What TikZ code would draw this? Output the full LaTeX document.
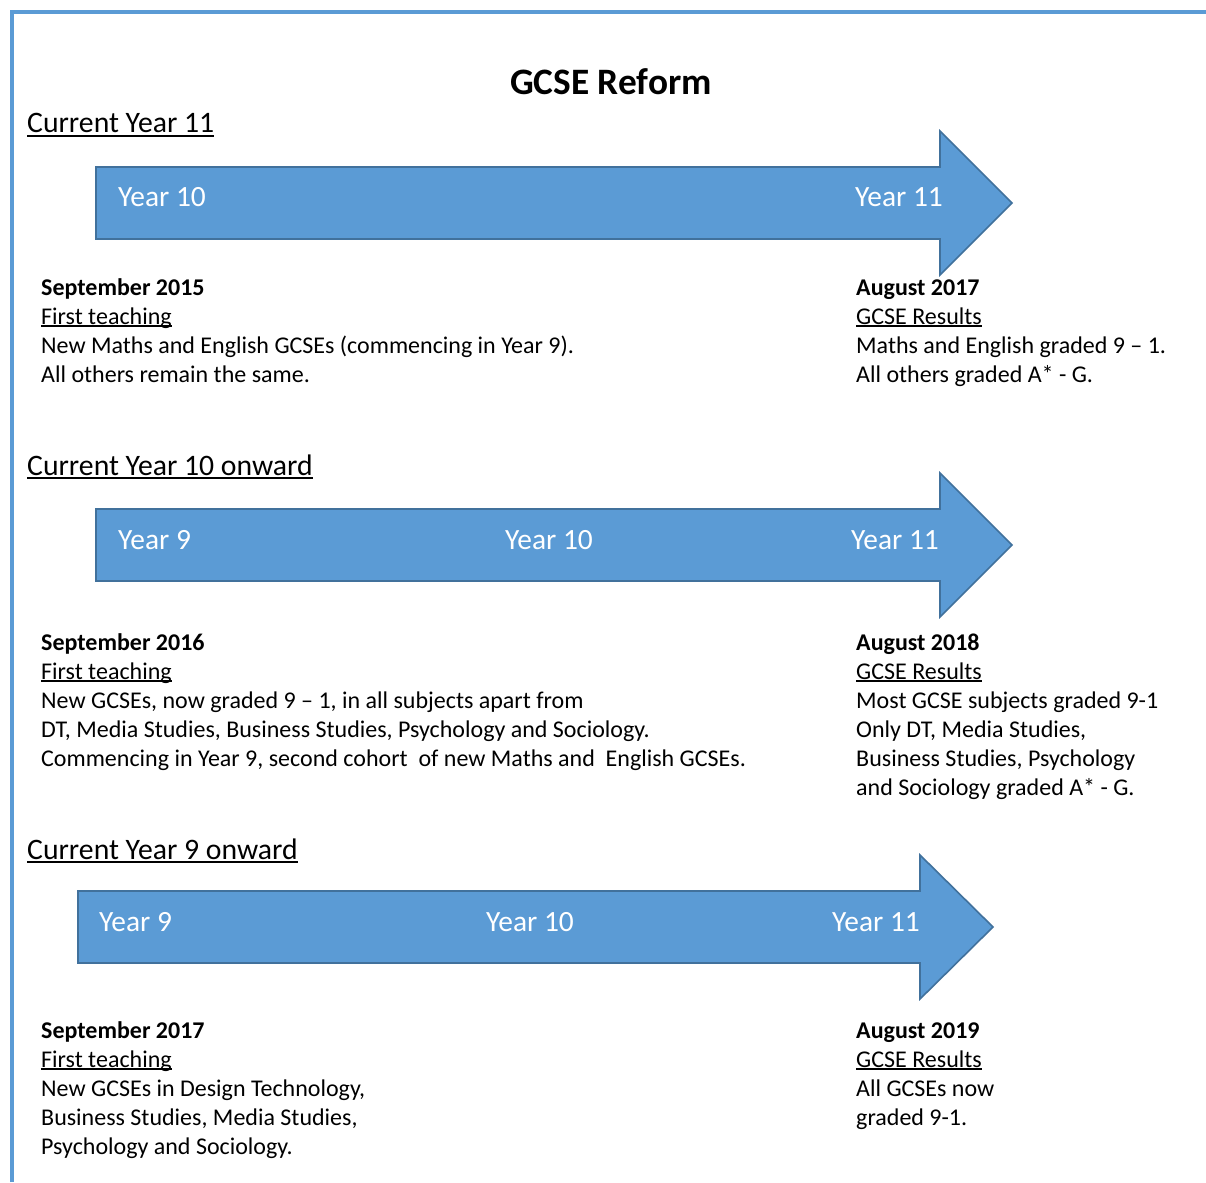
\documentclass[tikz,border=0pt]{standalone}
\usepackage{fontspec}
\setmainfont{Carlito}
\definecolor{afill}{HTML}{5B9BD5}
\definecolor{aline}{HTML}{41719C}
\newcommand\myul[1]{\setbox0\hbox{#1}\rlap{\rule[-0.12em]{\wd0}{0.065em}}\box0}
\tikzset{
  txt/.style={anchor=base west, inner sep=0pt, font=\fontsize{24}{29}\selectfont},
  bold/.style={txt, font=\fontsize{24}{29}\selectfont\bfseries},
  head/.style={anchor=base west, inner sep=0pt, font=\fontsize{29.7}{35}\selectfont},
  lab/.style={anchor=base west, inner sep=0pt, text=white, font=\fontsize{29.4}{35}\selectfont},
  bigarrow/.style={fill=afill, draw=aline, line width=1.6pt, line join=miter},
}
\begin{document}
\begin{tikzpicture}[x=1pt,y=-1pt]
\useasboundingbox (0,0) rectangle (1206,1182);
\fill[white] (0,0) rectangle (1206,1182);
% border
\draw[afill, line width=4pt] (12,1182) -- (12,12) -- (1206,12);
% title
\node[anchor=base, inner sep=0pt, font=\fontsize{37.3}{44}\selectfont\bfseries] (title) at (611,95) {GCSE Reform};

% ---- section 1
\node[head] (h1) at (27,133) {\myul{Current Year 11}};
\draw[bigarrow] (96,167) -- (940,167) -- (940,131) -- (1012,203) -- (940,275) -- (940,239) -- (96,239) -- cycle;
\node[lab] (a1y10) at (118,207) {Year 10};
\node[lab] (a1y11) at (855,207) {Year 11};
\node[bold] (s1l1) at (41,295) {September 2015};
\node[txt] (s1l2) at (41,324) {\myul{First teaching}};
\node[txt] (s1l3) at (41,353) {New Maths and English GCSEs (commencing in Year 9).};
\node[txt] (s1l4) at (41,382) {All others remain the same.};
\node[bold] (s1r1) at (856,295) {August 2017};
\node[txt] (s1r2) at (856,324) {\myul{GCSE Results}};
\node[txt] (s1r3) at (856,353) {Maths and English graded 9 – 1.};
\node[txt] (s1r4) at (856,382) {All others graded A* - G.};

% ---- section 2
\node[head] (h2) at (27,475) {\myul{Current Year 10 onward}};
\draw[bigarrow] (96,509) -- (940,509) -- (940,473) -- (1012,545) -- (940,617) -- (940,581) -- (96,581) -- cycle;
\node[lab] (a2y9) at (118,549) {Year 9};
\node[lab] (a2y10) at (505,549) {Year 10};
\node[lab] (a2y11) at (851,549) {Year 11};
\node[bold] (s2l1) at (41,650) {September 2016};
\node[txt] (s2l2) at (41,679) {\myul{First teaching}};
\node[txt] (s2l3) at (41,708) {New GCSEs, now graded 9 – 1, in all subjects apart from};
\node[txt] (s2l4) at (41,737) {DT, Media Studies, Business Studies, Psychology and Sociology.};
\node[txt] (s2l5) at (41,766) {Commencing in Year 9, second cohort\ \ of new Maths and\ \ English GCSEs.};
\node[bold] (s2r1) at (856,650) {August 2018};
\node[txt] (s2r2) at (856,679) {\myul{GCSE Results}};
\node[txt] (s2r3) at (856,708) {Most GCSE subjects graded 9-1};
\node[txt] (s2r4) at (856,737) {Only DT, Media Studies,};
\node[txt] (s2r5) at (856,766) {Business Studies, Psychology};
\node[txt] (s2r6) at (856,795) {and Sociology graded A* - G.};

% ---- section 3
\node[head] (h3) at (27,859) {\myul{Current Year 9 onward}};
\draw[bigarrow] (78,891) -- (920,891) -- (920,855) -- (993,927) -- (920,999) -- (920,963) -- (78,963) -- cycle;
\node[lab] (a3y9) at (99,931) {Year 9};
\node[lab] (a3y10) at (486,931) {Year 10};
\node[lab] (a3y11) at (832,931) {Year 11};
\node[bold] (s3l1) at (41,1038) {September 2017};
\node[txt] (s3l2) at (41,1067) {\myul{First teaching}};
\node[txt] (s3l3) at (41,1096) {New GCSEs in Design Technology,};
\node[txt] (s3l4) at (41,1125) {Business Studies, Media Studies,};
\node[txt] (s3l5) at (41,1154) {Psychology and Sociology.};
\node[bold] (s3r1) at (856,1038) {August 2019};
\node[txt] (s3r2) at (856,1067) {\myul{GCSE Results}};
\node[txt] (s3r3) at (856,1096) {All GCSEs now};
\node[txt] (s3r4) at (856,1125) {graded 9-1.};
\end{tikzpicture}
\end{document}
